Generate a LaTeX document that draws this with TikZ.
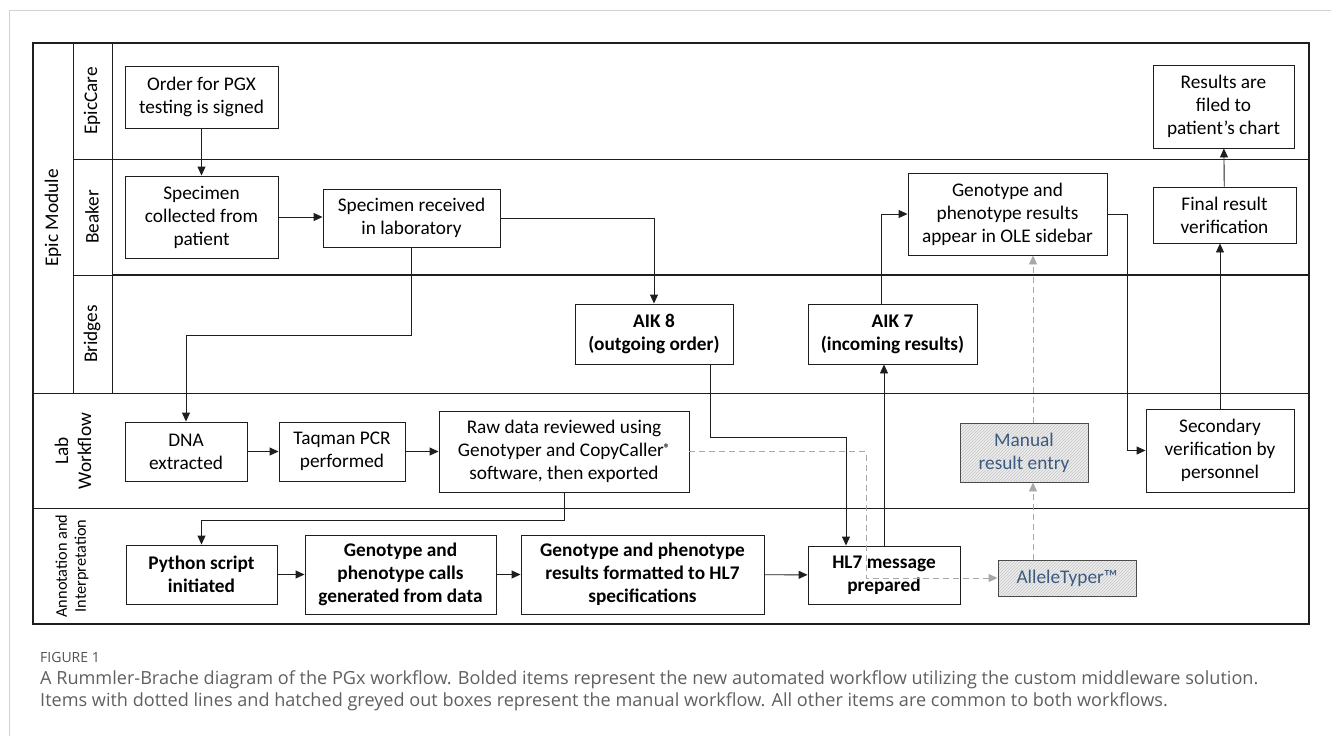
\documentclass[tikz,border=0pt]{standalone}
\usepackage{fontspec}
\setmainfont{Carlito}
\newfontfamily\capfont{Open Sans}
\usetikzlibrary{arrows.meta,patterns}
\definecolor{capgray}{HTML}{5F5F5F}
\definecolor{hatchtext}{HTML}{3C5A80}
\definecolor{dashgray}{HTML}{A8A8A8}
\definecolor{linegray}{HTML}{1E1E1E}
\newcommand{\diag}{\fontsize{19.3}{23}\selectfont}
\tikzset{
  box/.style={draw=linegray, line width=0.9pt, fill=white, align=center, inner sep=1pt, font=\diag},
  bbox/.style={box, font=\diag\bfseries},
  hbox/.style={draw=linegray!80, line width=0.9pt, align=center, inner sep=1pt, font=\diag, text=hatchtext,
    preaction={fill=gray!14}, pattern=north east lines, pattern color=gray!45},
  arr/.style={draw=linegray, line width=0.9pt, -{Triangle[length=9pt,width=8pt]}},
  darr/.style={draw=dashgray, line width=0.9pt, dash pattern=on 6pt off 4pt, -{Triangle[length=9pt,width=8pt]}},
  lane/.style={rotate=90, align=center, font=\diag},
  frame/.style={draw=linegray, line width=0.9pt}
}
\begin{document}
\begin{tikzpicture}[x=1pt,y=-1pt]
\useasboundingbox (0,0) rectangle (1331,736);
% page border
\draw[gray!35, line width=1pt] (9,736) -- (9,10) -- (1331,10);
% swimlane frame
\draw[frame, line width=1.2pt] (33,43) rectangle (1309,624);
\draw[frame] (73,43) -- (73,393);
\draw[frame] (112,43) -- (112,393);
\draw[frame] (73,159) -- (1309,159);
\draw[frame] (73,275) -- (112,275);
\draw[frame, line width=1.8pt] (112,275) -- (1309,275);
\draw[frame] (33,393) -- (1309,393);
\draw[frame] (33,508) -- (1309,508);
% lane labels
\node[lane] (lEpicCare) at (92,101) {EpicCare};
\node[lane] (lBeaker) at (92,217) {Beaker};
\node[lane] (lBridges) at (92,334) {Bridges};
\node[lane] (lEpic) at (53,218) {Epic Module};
\node[lane] (lLab) at (73,451) {Lab\\Workflow};
\node[lane, font=\fontsize{16.3}{19}\selectfont] (lAnn) at (72,566) {Annotation and\\Interpretation};
% boxes
\node[box, minimum width=153, minimum height=62] (order) at (201.5,97) {Order for PGX\\testing is signed};
\node[box, minimum width=153, minimum height=82] (spcol) at (201.5,217) {Specimen\\collected from\\patient};
\node[box, minimum width=177, minimum height=58] (sprec) at (411.5,218) {Specimen received\\in laboratory};
\node[box, minimum width=199, minimum height=82] (ole) at (1007.5,214) {Genotype and\\phenotype results\\appear in OLE sidebar};
\node[box, minimum width=143, minimum height=56] (final) at (1224.5,215) {Final result\\verification};
\node[box, minimum width=141, minimum height=83] (filed) at (1223.5,106.5) {Results are\\filed to\\patient’s chart};
\node[bbox, minimum width=158, minimum height=60] (aik8) at (654,334) {AIK 8\\(outgoing order)};
\node[bbox, minimum width=169, minimum height=60] (aik7) at (892.5,334) {AIK 7\\(incoming results)};
\node[box, minimum width=122, minimum height=59] (dna) at (186,451.5) {DNA\\extracted};
\node[box, minimum width=126, minimum height=59] (taq) at (342,451.5) {Taqman PCR\\performed};
\node[box, minimum width=250, minimum height=81] (raw) at (564,451.5) {Raw data reviewed using\\Genotyper and CopyCaller\raisebox{0.5ex}{\fontsize{12}{12}\selectfont\bfseries ®}\\software, then exported};
\node[hbox, minimum width=128, minimum height=59] (manual) at (1024,452.5) {Manual\\result entry};
\node[box, minimum width=148, minimum height=83] (sec) at (1220,450.5) {Secondary\\verification by\\personnel};
\node[bbox, minimum width=151, minimum height=59] (python) at (201.5,574.5) {Python script\\initiated};
\node[bbox, minimum width=191, minimum height=79] (gcalls) at (400.5,574.5) {Genotype and\\phenotype calls\\generated from data};
\node[bbox, minimum width=243, minimum height=79] (hl7fmt) at (642.5,574.5) {Genotype and phenotype\\results formatted to HL7\\specifications};
\node[bbox, minimum width=152, minimum height=58] (hl7msg) at (884,575) {HL7 message\\prepared};
\node[hbox, minimum width=138, minimum height=36] (allele) at (1067,578) {AlleleTyper™};
% helper coordinates
\coordinate (k1) at (710,437);
\coordinate (cx) at (1033,0);
% solid connectors
\draw[arr] (order) -- (spcol);
\draw[arr] (spcol.east) -- (sprec.west |- spcol.east);
\draw[arr] (sprec.east) -| (aik8.north);
\draw[arr] (sprec.south) -- ++(0,88) -| (dna.north);
\draw[arr] (dna) -- (taq);
\draw[arr] (taq) -- (raw);
\draw[arr] (raw.south) -- ++(0,28) -| (python.north);
\draw[arr] (python) -- (gcalls);
\draw[arr] (gcalls) -- (hl7fmt);
\draw[arr] (hl7fmt) -- (hl7msg);
\draw[arr] (aik8.south -| k1) -- (k1) -| ([xshift=-38]hl7msg.north);
\draw[arr] (hl7msg.north) -- (hl7msg.north |- aik7.south);
\draw[arr] ([xshift=-11]aik7.north) |- (ole.west);
\draw[arr] (ole.east) -- ++(20,0) |- (sec.west);
\draw[arr] (sec.north) -- (sec.north |- final.south);
\draw[arr] (final) -- (filed);
% dashed (manual workflow)
\draw[darr] (raw.east) -- ++(177,0) |- (allele.west);
\draw[darr] (allele.north -| cx) -- (manual.south -| cx);
\draw[darr] (manual.north -| cx) -- (ole.south -| cx);
% caption
\node[anchor=base west, inner sep=0, font=\capfont\fontsize{14}{16}\selectfont, text=capgray!85!black] (figlab) at (40,662) {FIGURE 1};
\node[anchor=base west, inner sep=0, font=\capfont\fontsize{18.1}{22}\selectfont, text=capgray] (cap1) at (40,684) {A Rummler-Brache diagram of the PGx workflow. Bolded items represent the new automated workflow utilizing the custom middleware solution.};
\node[anchor=base west, inner sep=0, font=\capfont\fontsize{18.1}{22}\selectfont, text=capgray] (cap2) at (40,706) {Items with dotted lines and hatched greyed out boxes represent the manual workflow. All other items are common to both workflows.};
\end{tikzpicture}
\end{document}
